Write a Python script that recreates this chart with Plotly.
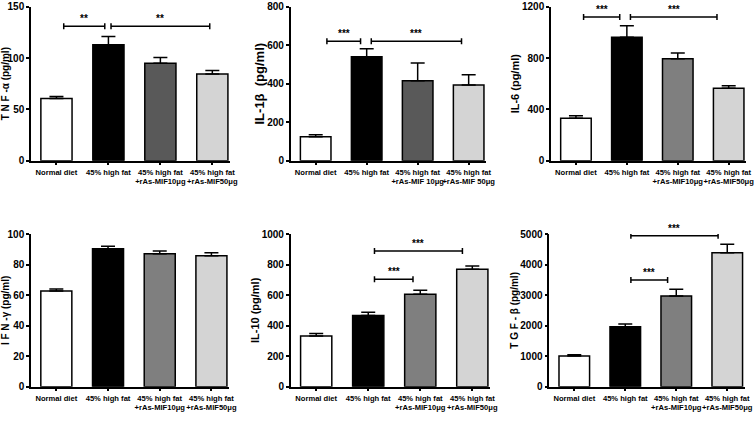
import plotly.graph_objects as go

# ---------------- data ----------------
tick_labels_a = ["Normal diet", "45% high fat", "45% high fat<br>+rAs-MIF10μg", "45% high fat<br>+rAs-MIF50μg"]
tick_labels_b = ["Normal diet", "45% high fat", "45% high fat<br>+rAs-MIF 10μg", "45% high fat<br>+rAs-MIF 50μg"]

tnf_mean = [60.5, 113, 95, 84.5]
tnf_sem = [2, 8, 5.5, 3.3]
il1b_mean = [125, 540, 415, 393]
il1b_sem = [10, 42, 93, 54]
il6_mean = [330, 962, 795, 565]
il6_sem = [20, 90, 44, 20]
ifng_mean = [62.7, 90.3, 87, 85.8]
ifng_sem = [1.3, 1.6, 1.8, 1.9]
il10_mean = [332, 467, 605, 769]
il10_sem = [17, 20, 26, 21]
tgfb_mean = [1005, 1965, 2970, 4390]
tgfb_sem = [45, 87, 218, 273]

# significance brackets: (x start, x end, y level, label)
tnf_sig = [(0.14, 0.93, 131, "**"), (1.05, 2.95, 131, "**")]
il1b_sig = [(0.22, 0.88, 620, "***"), (1.09, 2.86, 620, "***")]
il6_sig = [(0.15, 0.86, 1120, "***"), (1.07, 2.77, 1120, "***")]
ifng_sig = []
il10_sig = [(1.12, 2.81, 889, "***"), (1.12, 1.86, 703, "***")]
tgfb_sig = [(1.11, 2.82, 4945, "***"), (1.11, 1.83, 3493, "***")]

# ---------------- styling / layout ----------------
W, H = 756, 421
FONT = "Liberation Sans, Arial"
XR = [-0.49, 3.34]

panels = [
    dict(mean=tnf_mean, sem=tnf_sem, sig=tnf_sig, ticks=tick_labels_a, ymax=150, dtick=50,
         title="T N F -α (pg/ml)", tsize=10, px=(31, 230), py=(6.7, 160.7),
         colors=["white", "black", "#595959", "#d4d4d4"]),
    dict(mean=il1b_mean, sem=il1b_sem, sig=il1b_sig, ticks=tick_labels_b, ymax=800, dtick=200,
         title="IL-1β  (pg/ml)", tsize=13, px=(290.7, 486), py=(6.7, 160.7),
         colors=["white", "black", "#595959", "#d4d4d4"]),
    dict(mean=il6_mean, sem=il6_sem, sig=il6_sig, ticks=tick_labels_a, ymax=1200, dtick=400,
         title="IL-6 (pg/ml)", tsize=11, px=(551, 746), py=(6.7, 160.7),
         colors=["white", "black", "#7f7f7f", "#d4d4d4"]),
    dict(mean=ifng_mean, sem=ifng_sem, sig=ifng_sig, ticks=tick_labels_a, ymax=100, dtick=20,
         title="I F N -γ (pg/ml)", tsize=10, px=(31, 229), py=(234, 386.7),
         colors=["white", "black", "#7f7f7f", "#d4d4d4"]),
    dict(mean=il10_mean, sem=il10_sem, sig=il10_sig, ticks=tick_labels_a, ymax=1000, dtick=200,
         title="IL-10 (pg/ml)", tsize=11, px=(290.7, 490), py=(234, 386.7),
         colors=["white", "black", "#7f7f7f", "#d4d4d4"]),
    dict(mean=tgfb_mean, sem=tgfb_sem, sig=tgfb_sig, ticks=tick_labels_a, ymax=5000, dtick=1000,
         title="T G F - β (pg/ml)", tsize=10, px=(549.3, 744.6), py=(234, 386.7),
         colors=["white", "black", "#7f7f7f", "#d4d4d4"]),
]

fig = go.Figure()
shapes = []
annotations = []
layout_axes = {}

for i, p in enumerate(panels, start=1):
    xa = "x" if i == 1 else f"x{i}"
    ya = "y" if i == 1 else f"y{i}"
    xkey = "xaxis" if i == 1 else f"xaxis{i}"
    ykey = "yaxis" if i == 1 else f"yaxis{i}"
    xs = list(range(len(p["mean"])))
    fig.add_trace(go.Bar(
        x=xs, y=p["mean"], width=0.6, xaxis=xa, yaxis=ya,
        marker=dict(color=p["colors"], line=dict(color="black", width=1.5)),
        error_y=dict(type="data", symmetric=False, array=p["sem"],
                     arrayminus=[0] * len(xs), color="black", thickness=1.5, width=7),
        showlegend=False, hoverinfo="skip",
    ))
    dom_x = [p["px"][0] / W, p["px"][1] / W]
    dom_y = [(H - p["py"][1]) / H, (H - p["py"][0]) / H]
    layout_axes[xkey] = dict(
        domain=dom_x, range=XR, anchor=ya, tickmode="array", tickvals=xs,
        ticktext=p["ticks"], showline=True, linecolor="black", linewidth=1.5,
        ticks="outside", ticklen=3, tickwidth=1.5, tickcolor="black", tickangle=0,
        showgrid=False, zeroline=False, fixedrange=True, automargin=False,
        tickfont=dict(family=FONT, size=7.6, color="black", weight="bold"),
    )
    layout_axes[ykey] = dict(
        domain=dom_y, range=[0, p["ymax"]], anchor=xa, dtick=p["dtick"], tick0=0,
        showline=True, linecolor="black", linewidth=1.5,
        ticks="outside", ticklen=3, tickwidth=1.5, tickcolor="black",
        showgrid=False, zeroline=False, fixedrange=True, automargin=False,
        tickfont=dict(family=FONT, size=10, color="black", weight="bold"),
        title=dict(text=p["title"], standoff=0,
                   font=dict(family=FONT, size=p["tsize"], color="black", weight="bold")),
    )
    hpx = p["py"][1] - p["py"][0]
    cap = 3 * p["ymax"] / hpx
    for (x0, x1, yv, lab) in p["sig"]:
        shapes.append(dict(type="line", xref=xa, yref=ya, x0=x0, x1=x1, y0=yv, y1=yv,
                           line=dict(color="black", width=1.5)))
        for xe in (x0, x1):
            shapes.append(dict(type="line", xref=xa, yref=ya, x0=xe, x1=xe,
                               y0=yv - cap, y1=yv + cap, line=dict(color="black", width=1.5)))
        annotations.append(dict(x=(x0 + x1) / 2, y=yv, xref=xa, yref=ya, text=lab,
                                showarrow=False, yanchor="bottom", yshift=0,
                                font=dict(family=FONT, size=10, color="black", weight="bold")))

fig.update_layout(
    width=W, height=H, margin=dict(l=0, r=0, t=0, b=0),
    paper_bgcolor="white", plot_bgcolor="white",
    shapes=shapes, annotations=annotations, bargap=0.4,
    **layout_axes,
)

fig.write_html("out.html")
